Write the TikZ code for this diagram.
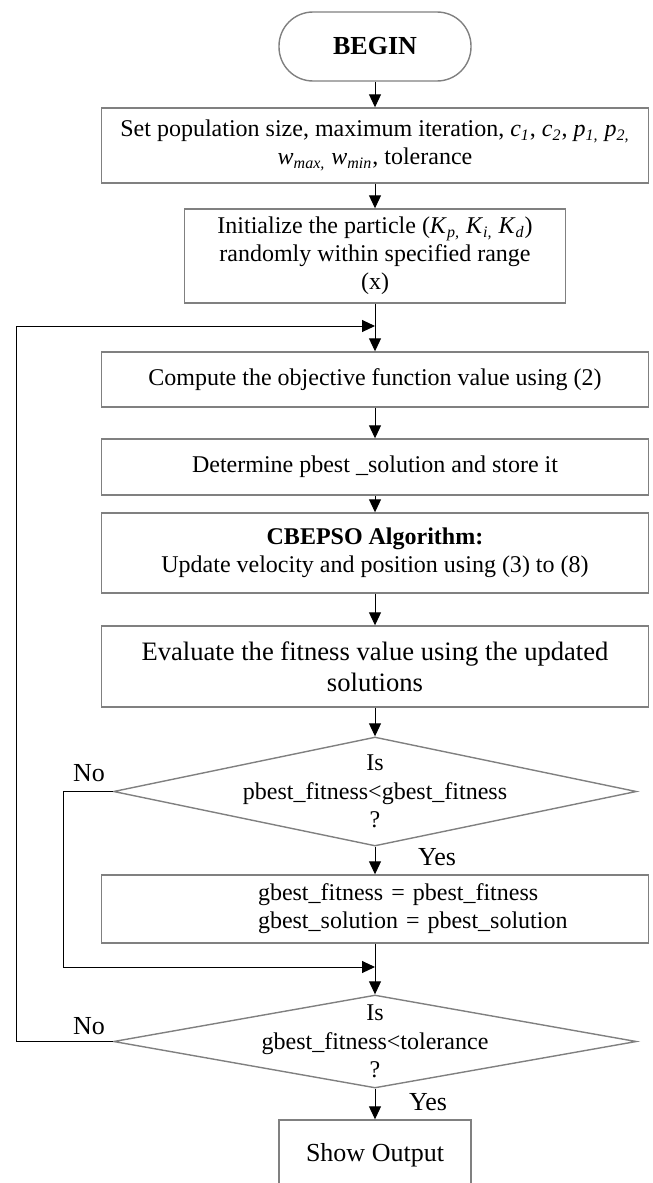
\documentclass[tikz,border=0pt]{standalone}
\usepackage{fontspec}
\setmainfont{Liberation Serif}
\usetikzlibrary{arrows.meta,shapes.geometric}
\newcommand{\varsub}[2]{\textit{#1}\textsubscript{\textit{#2}}}
\begin{document}
\begin{tikzpicture}[x=0.5pt,y=-0.5pt,
box/.style={draw=black!50,line width=0.7pt,inner sep=0pt,align=center,font=\fontsize{12}{14}\selectfont},
wide/.style={box,minimum width=273.5pt},
dec/.style={diamond,draw=black!50,line width=0.7pt,inner sep=0pt,minimum width=261.5pt},
txt/.style={align=center,inner sep=0pt,font=\fontsize{12}{14.3}\selectfont},
lbl/.style={inner sep=0pt,font=\fontsize{13}{15}\selectfont},
arr/.style={-{Triangle[length=6.5pt,width=6pt]},line width=0.5pt}]
\useasboundingbox(0,0)rectangle(653,1183);
\node[box,rounded corners=17pt,minimum width=96pt,minimum height=34.5pt,font=\fontsize{13}{15}\selectfont\bfseries](begin)at(375,46.5){BEGIN};
\node[wide,minimum height=37.5pt](setup)at(375,145.5){Set population size, maximum iteration, \varsub{c}{1}, \varsub{c}{2}, \varsub{p}{1,} \varsub{p}{2,}\\\varsub{w}{max,} \varsub{w}{min}, tolerance};
\node[box,minimum width=190.5pt,minimum height=47pt](init)at(375,256){Initialize the particle (\varsub{K}{p,} \varsub{K}{i,} \varsub{K}{d})\\randomly within specified range\\(x)};
\coordinate(loop)at(375,326);
\node[wide,minimum height=27.5pt](compute)at(375,379.5){Compute the objective function value using (2)};
\node[wide,minimum height=28pt](pbest)at(375,467){Determine pbest \_solution and store it};
\node[wide,minimum height=40pt](cbepso)at(375,553){\textbf{CBEPSO Algorithm:}\\Update velocity and position using (3) to (8)};
\node[wide,minimum height=40.5pt,font=\fontsize{13.3}{15.5}\selectfont](eval)at(375,666.5){Evaluate the fitness value using the updated\\solutions};
\node[dec,minimum height=54.5pt](dec1)at(375,791.5){};
\node[txt](dec1txt)at(dec1){Is\\pbest\_fitness<gbest\_fitness\\?};
\node[wide,minimum height=34pt,text width=210pt,align=left](gbest)at(375,909){\hspace*{46.5pt}gbest\_fitness = pbest\_fitness\\\hspace*{46.5pt}gbest\_solution = pbest\_solution};
\coordinate(join)at(375,967);
\node[dec,minimum height=46.5pt](dec2)at(375,1041.5){};
\node[txt](dec2txt)at(dec2){Is\\gbest\_fitness<tolerance\\?};
\node[box,minimum width=96pt,minimum height=35pt,font=\fontsize{13}{15}\selectfont](show)at(375,1155){Show Output};
\node[lbl](no1)at(89,773){No};
\node[lbl](no2)at(89,1026){No};
\node[lbl](yes1)at(437,857){Yes};
\node[lbl](yes2)at(428,1102){Yes};
\draw[arr](begin)--(setup);
\draw[arr](setup)--(init);
\draw[arr](init)--(compute);
\draw[arr](compute)--(pbest);
\draw[arr](pbest)--(cbepso);
\draw[arr](cbepso)--(eval);
\draw[arr](eval)--(dec1);
\draw[arr](dec1)--(gbest);
\draw[arr](gbest)--(dec2);
\draw[arr](dec2)--(show);
\draw[arr](dec1.west)--++(-49,0)|-(join);
\draw[arr](dec2.west)--++(-96,0)|-(loop);
\end{tikzpicture}
\end{document}
